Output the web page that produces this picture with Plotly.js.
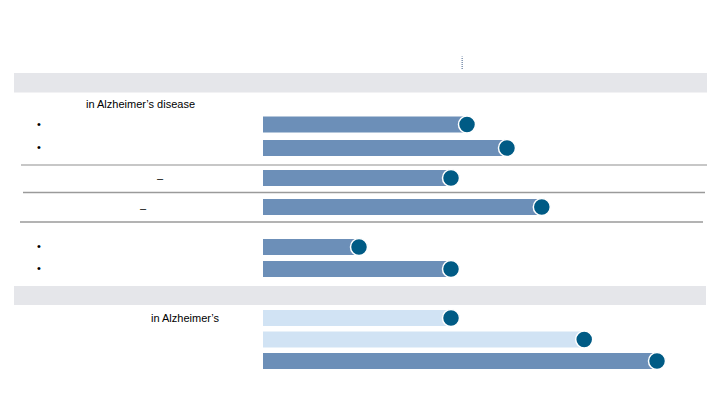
<!DOCTYPE html>
<html>
<head>
<meta charset="utf-8">
<script src="https://cdn.plot.ly/plotly-3.0.1.min.js"></script>
<style>html,body{margin:0;padding:0;background:#fff;}#chart{width:720px;height:405px;}</style>
</head>
<body>
<div id="chart"></div>
<script>
// Data
const groupA = ["A1", "A2"];
const valuesA = [51, 61];
const groupB = ["B1"];
const valuesB = [47];
const groupC = ["C1"];
const valuesC = [69.7];
const groupD = ["D1", "D2"];
const valuesD = [24, 47];
const groupE = ["E1", "E2", "E3"];
const valuesE = [47, 80.3, 98.5];
const barColorsE = ["#d1e3f4", "#d1e3f4", "#6c8fb8"];
const referenceValue = 49.8;

const BAR = "#6c8fb8";
const DOT = "#005b85";
const H = 405;
function dom(topPx, botPx) { return [1 - botPx / H, 1 - topPx / H]; }

const groups = [
  {cats: groupA, vals: valuesA, colors: null, ax: "y", top: 112.75, bot: 159.75},
  {cats: groupB, vals: valuesB, colors: null, ax: "y2", top: 167, bot: 189},
  {cats: groupC, vals: valuesC, colors: null, ax: "y3", top: 196, bot: 218},
  {cats: groupD, vals: valuesD, colors: null, ax: "y4", top: 236, bot: 280},
  {cats: groupE, vals: valuesE, colors: barColorsE, ax: "y5", top: 307.25, bot: 371.75}
];

const traces = [];
const layout = {
  width: 720, height: 405,
  margin: {l: 0, r: 0, t: 0, b: 0},
  paper_bgcolor: "#ffffff", plot_bgcolor: "rgba(0,0,0,0)",
  showlegend: false,
  font: {family: "Liberation Sans, Arial, sans-serif", size: 11, color: "#000"},
  xaxis: {range: [0, 100], domain: [263 / 720, 663 / 720], visible: false, fixedrange: true},
  shapes: [], annotations: []
};

groups.forEach((g, i) => {
  const step = (g.bot - g.top) / g.cats.length;
  const w = 16 / step;
  traces.push({
    type: "bar", orientation: "h", x: g.vals, y: g.cats,
    xaxis: "x", yaxis: g.ax, width: w,
    marker: {color: g.colors || BAR, line: {width: 0}},
    hoverinfo: "skip"
  });
  traces.push({
    type: "scatter", mode: "markers", x: g.vals, y: g.cats,
    xaxis: "x", yaxis: g.ax, cliponaxis: false,
    marker: {size: 17, color: DOT, line: {color: "#ffffff", width: 1.5}},
    hoverinfo: "skip"
  });
  const key = i === 0 ? "yaxis" : "yaxis" + (i + 1);
  layout[key] = {
    type: "category", domain: dom(g.top, g.bot), anchor: "x",
    range: [g.cats.length - 0.5, -0.5], visible: false, fixedrange: true
  };
});

// grey header bands
layout.shapes.push({type: "rect", xref: "paper", yref: "paper", x0: 14 / 720, x1: 707 / 720, y0: 1 - 92.5 / H, y1: 1 - 73 / H, fillcolor: "#e5e6ea", line: {width: 0}, layer: "below"});
layout.shapes.push({type: "rect", xref: "paper", yref: "paper", x0: 14 / 720, x1: 706 / 720, y0: 1 - 305 / H, y1: 1 - 286 / H, fillcolor: "#e5e6ea", line: {width: 0}, layer: "below"});
// separator lines
layout.shapes.push({type: "line", xref: "paper", yref: "paper", x0: 21 / 720, x1: 707 / 720, y0: 1 - 165 / H, y1: 1 - 165 / H, line: {color: "#b4b4b4", width: 1.5}});
layout.shapes.push({type: "line", xref: "paper", yref: "paper", x0: 23 / 720, x1: 705 / 720, y0: 1 - 192.5 / H, y1: 1 - 192.5 / H, line: {color: "#9a9a9a", width: 1.5}});
layout.shapes.push({type: "line", xref: "paper", yref: "paper", x0: 20 / 720, x1: 703 / 720, y0: 1 - 222 / H, y1: 1 - 222 / H, line: {color: "#9a9a9a", width: 1.5}});
// reference dotted marker
layout.shapes.push({type: "line", xref: "x", yref: "paper", x0: referenceValue, x1: referenceValue, y0: 1 - 69 / H, y1: 1 - 56.5 / H, line: {color: "#7f93b0", width: 1.5, dash: "1px,1px"}});

function ann(text, xpx, ypx, anchor) {
  layout.annotations.push({text: text, xref: "paper", yref: "paper", x: xpx / 720, y: 1 - ypx / H,
    xanchor: anchor, yanchor: "middle", showarrow: false, font: {size: 11, color: "#000"}});
}
ann("in Alzheimer’s disease", 84, 104, "left");
ann("•", 39, 124, "center");
ann("•", 39, 147, "center");
ann("–", 160, 178, "center");
ann("–", 143, 208, "center");
ann("•", 39, 246, "center");
ann("•", 39, 268, "center");
ann("in Alzheimer’s", 222, 318, "right");

Plotly.newPlot("chart", traces, layout, {displayModeBar: false, staticPlot: true});
</script>
</body>
</html>
